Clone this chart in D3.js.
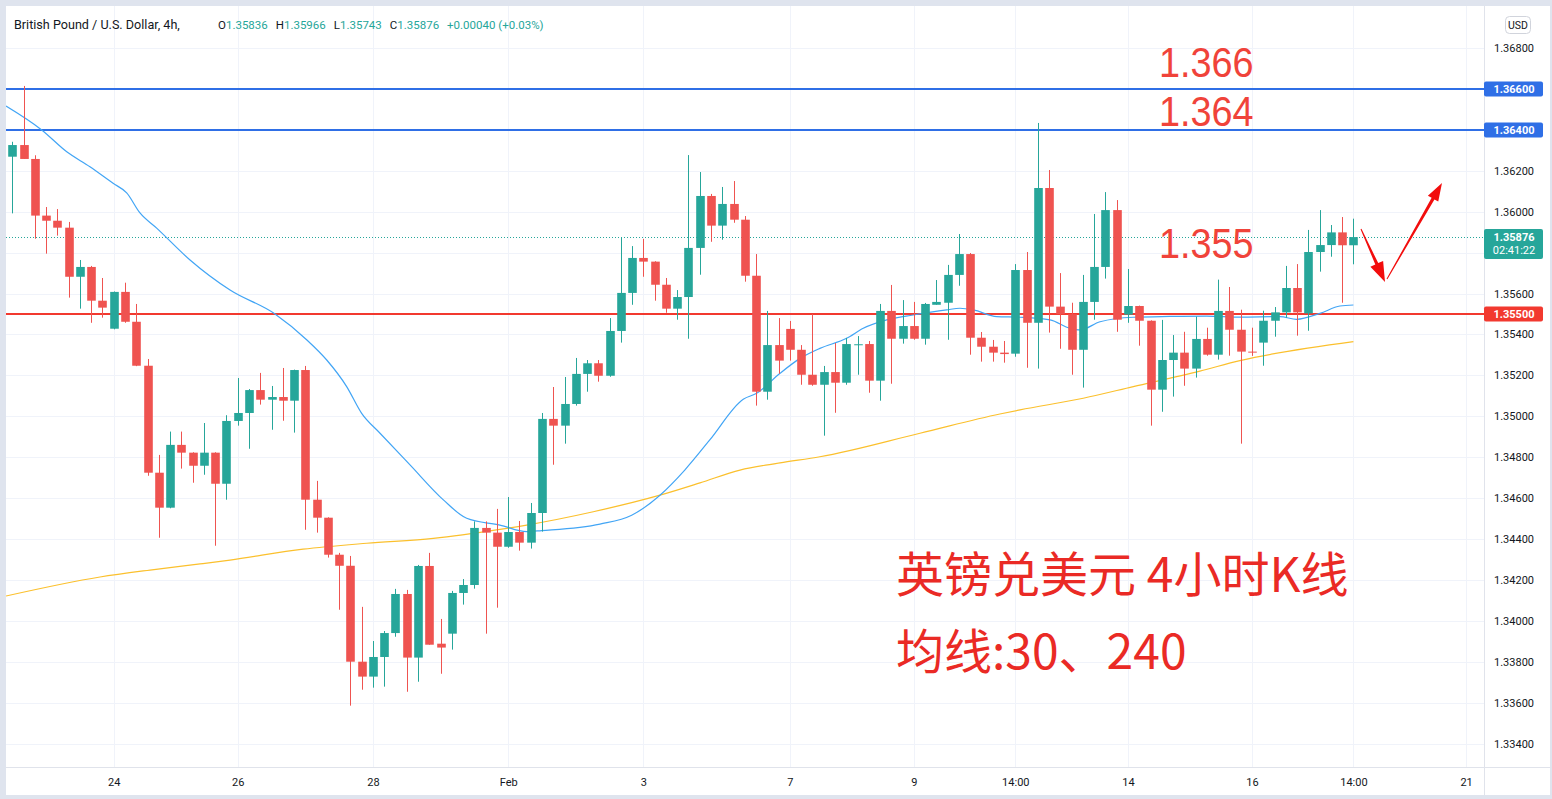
<!DOCTYPE html>
<html><head><meta charset="utf-8">
<script src="https://cdn.jsdelivr.net/npm/d3@7"></script>
<style>html,body{margin:0;padding:0;background:#fff;overflow:hidden}</style>
</head><body><svg id="c" width="1552" height="799"></svg>
<script>
// ---- data ----
const openP=[1.36269,1.36326,1.36258,1.35981,1.35956,1.35922,1.35682,1.35730,1.35565,1.35428,
1.35608,1.35462,1.35247,1.34724,1.34553,1.34860,1.34822,1.34758,1.34822,1.34670,
1.34977,1.35016,1.35128,1.35081,1.35094,1.35076,1.35226,1.34592,1.34504,1.34323,
1.34269,1.33800,1.33727,1.33823,1.33940,1.34131,1.33820,1.34268,1.33888,1.33937,
1.34136,1.34175,1.34454,1.34431,1.34362,1.34434,1.34382,1.34527,1.34987,1.34954,
1.35060,1.35207,1.35259,1.35198,1.35417,1.35603,1.35774,1.35756,1.35643,1.35526,
1.35583,1.35823,1.36077,1.35932,1.36038,1.35961,1.35687,1.35120,1.35348,1.35427,
1.35325,1.35203,1.35154,1.35216,1.35164,1.35350,1.35353,1.35174,1.35515,1.35379,
1.35441,1.35379,1.35545,1.35555,1.35691,1.35793,1.35384,1.35340,1.35311,1.35306,
1.35715,1.35457,1.36116,1.35536,1.35499,1.35325,1.35559,1.35730,1.36008,1.35497,
1.35539,1.35467,1.35130,1.35275,1.35311,1.35233,1.35378,1.35301,1.35515,1.35423,
1.35316,1.35360,1.35467,1.35508,1.35627,1.35503,1.35803,1.35837,1.35899,1.35836];
const highP=[1.36342,1.36615,1.36276,1.36023,1.36013,1.35950,1.35764,1.35735,1.35676,1.35610,
1.35653,1.35549,1.35280,1.34811,1.34925,1.34925,1.34824,1.34967,1.34824,1.35005,
1.35187,1.35133,1.35212,1.35148,1.35236,1.35228,1.35246,1.34684,1.34506,1.34332,
1.34317,1.34068,1.33901,1.33950,1.34156,1.34151,1.34273,1.34332,1.34009,1.34146,
1.34204,1.34486,1.34486,1.34547,1.34605,1.34488,1.34576,1.35016,1.35143,1.35192,
1.35285,1.35275,1.35275,1.35480,1.35876,1.35832,1.35867,1.35758,1.35676,1.35617,
1.36277,1.36194,1.36087,1.36121,1.36150,1.35979,1.35793,1.35515,1.35480,1.35466,
1.35348,1.35500,1.35246,1.35358,1.35383,1.35392,1.35368,1.35549,1.35642,1.35568,
1.35559,1.35554,1.35666,1.35740,1.35891,1.35798,1.35412,1.35373,1.35368,1.35744,
1.35803,1.36434,1.36204,1.35700,1.35555,1.35691,1.35989,1.36096,1.36057,1.35720,
1.35541,1.35469,1.35471,1.35397,1.35413,1.35487,1.35433,1.35668,1.35632,1.35521,
1.35433,1.35516,1.35534,1.35735,1.35744,1.35911,1.36008,1.35935,1.35974,1.35966];
const lowP=[1.35992,1.36258,1.35868,1.35795,1.35883,1.35580,1.35526,1.35457,1.35482,1.35425,
1.35457,1.35245,1.34709,1.34406,1.34550,1.34744,1.34675,1.34714,1.34367,1.34592,
1.34954,1.34841,1.35057,1.34934,1.34978,1.34920,1.34445,1.34431,1.34309,1.34054,
1.33585,1.33663,1.33673,1.33678,1.33922,1.33653,1.33702,1.33883,1.33741,1.33859,
1.34079,1.34157,1.33937,1.34064,1.34357,1.34343,1.34353,1.34436,1.34763,1.34866,
1.35052,1.35120,1.35169,1.35193,1.35360,1.35545,1.35682,1.35565,1.35506,1.35472,
1.35379,1.35692,1.35853,1.35863,1.35946,1.35658,1.35052,1.35081,1.35208,1.35272,
1.35154,1.35149,1.34905,1.35017,1.35154,1.35203,1.35115,1.35076,1.35159,1.35355,
1.35374,1.35350,1.35545,1.35374,1.35638,1.35301,1.35267,1.35267,1.35262,1.35291,
1.35237,1.35233,1.35409,1.35330,1.35203,1.35140,1.35472,1.35673,1.35413,1.35457,
1.35345,1.34954,1.35022,1.35096,1.35149,1.35189,1.35296,1.35277,1.35296,1.34866,
1.35295,1.35247,1.35389,1.35482,1.35394,1.35418,1.35707,1.35780,1.35555,1.35743];
const closeP=[1.36326,1.36258,1.35981,1.35956,1.35922,1.35682,1.35730,1.35565,1.35531,1.35608,
1.35462,1.35247,1.34724,1.34553,1.34860,1.34822,1.34758,1.34822,1.34670,1.34977,
1.35016,1.35128,1.35081,1.35094,1.35076,1.35226,1.34592,1.34504,1.34323,1.34269,
1.33800,1.33727,1.33823,1.33940,1.34131,1.33820,1.34268,1.33883,1.33869,1.34136,
1.34175,1.34454,1.34431,1.34362,1.34434,1.34382,1.34527,1.34987,1.34954,1.35060,
1.35207,1.35259,1.35198,1.35417,1.35603,1.35774,1.35756,1.35643,1.35526,1.35583,
1.35823,1.36077,1.35932,1.36038,1.35961,1.35687,1.35120,1.35348,1.35272,1.35325,
1.35203,1.35154,1.35216,1.35164,1.35353,1.35352,1.35174,1.35515,1.35379,1.35441,
1.35379,1.35549,1.35559,1.35691,1.35793,1.35384,1.35340,1.35311,1.35304,1.35715,
1.35457,1.36116,1.35536,1.35499,1.35325,1.35559,1.35730,1.36008,1.35472,1.35539,
1.35467,1.35130,1.35275,1.35311,1.35233,1.35378,1.35301,1.35515,1.35423,1.35316,
1.35314,1.35467,1.35508,1.35627,1.35508,1.35803,1.35837,1.35899,1.35836,1.35876];

// moving averages read at positions (candle index, price)
const ma30Idx=[-0.56,2.61,4.83,6.89,8.94,10.15,11.33,12.81,15.77,19.32,23.31,26.14,27.9,29.67,31.0,32.63,35.29,38.25,40.32,43.27,45.64,46.97,52.15,54.96,57.47,59.67,61.89,64.86,66.05,68.12,69.9,71.66,74.03,75.51,77.59,79.95,82.91,84.09,85.27,87.35,89.42,92.08,93.86,94.74,96.52,99.47,102.7,105.98,108.9,112.49,113.97,116.03,117.81,119];
const ma30Val=[1.36517,1.36400,1.36293,1.36220,1.36139,1.36092,1.35994,1.35920,1.35764,1.35617,1.35500,1.35373,1.35275,1.35145,1.35014,1.34917,1.34762,1.34591,1.34501,1.34468,1.34436,1.34441,1.34473,1.34516,1.34614,1.34737,1.34884,1.35083,1.35112,1.35210,1.35283,1.35332,1.35381,1.35430,1.35471,1.35495,1.35520,1.35528,1.35520,1.35487,1.35484,1.35471,1.35430,1.35422,1.35462,1.35484,1.35488,1.35490,1.35485,1.35487,1.35474,1.35503,1.35539,1.35544];
const ma240Idx=[-0.56,7.78,12.22,16.66,19.32,25.8,31.45,37.36,43.27,45.64,51.55,57.47,61.02,64.57,68.12,71.66,80.54,87.63,89.42,95.03,99.47,105.38,108.93,119];
const ma240Val=[1.34121,1.34214,1.34248,1.34278,1.34297,1.34350,1.34379,1.34403,1.34447,1.34468,1.34533,1.34614,1.34674,1.34737,1.34772,1.34802,1.34917,1.35011,1.35031,1.35088,1.35145,1.35221,1.35272,1.35365];

const tickIdx=[9,20,32,44,56,69,80,89,99,110,119,129];
const tickLabels=["24","26","28","Feb","3","7","9","14:00","14","16","14:00","21"];
const priceTicks=[1.334,1.336,1.338,1.340,1.342,1.344,1.346,1.348,1.350,1.352,1.354,1.356,1.358,1.360,1.362,1.364,1.366,1.368];
const resistLines=[1.366,1.364];
const supportLine=1.355;
const lastPrice=1.35876;
const noteTexts=["1.366","1.364","1.355"];

// ---- layout ----
const svg=d3.select("#c");
const W=1552,H=799;
const plotL=6,plotR=1484,plotT=6,plotB=767;
const x=d3.scaleLinear().domain([0,119]).range([12.3,1353.4]);
const y=d3.scaleLinear().domain([1.334,1.368]).range([743.5,48.1]);
const UP="#26a69a",DN="#ef5350";
const FONT="Roboto,'Liberation Sans',Arial,sans-serif";

svg.append("rect").attr("width",W).attr("height",H).attr("fill","#dfe4ee");
svg.append("rect").attr("x",plotL).attr("y",plotT).attr("width",W-plotL-2).attr("height",795-plotT).attr("fill","#fff");

svg.append("defs").append("clipPath").attr("id","clip")
  .append("rect").attr("x",plotL).attr("y",plotT).attr("width",plotR-plotL).attr("height",plotB-plotT);

const grid=svg.append("g").attr("clip-path","url(#clip)");
grid.selectAll("line.h").data(priceTicks).join("line")
  .attr("x1",plotL).attr("x2",plotR).attr("y1",d=>Math.round(y(d))+0.5).attr("y2",d=>Math.round(y(d))+0.5)
  .attr("stroke","#f0f3fa").attr("stroke-width",1);
grid.selectAll("line.v").data(tickIdx).join("line")
  .attr("y1",plotT).attr("y2",plotB).attr("x1",d=>Math.round(x(d))+0.5).attr("x2",d=>Math.round(x(d))+0.5)
  .attr("stroke","#f0f3fa").attr("stroke-width",1);

// axes separators
svg.append("line").attr("x1",plotR+0.5).attr("x2",plotR+0.5).attr("y1",plotT).attr("y2",795).attr("stroke","#e0e3eb");
svg.append("line").attr("x1",plotL).attr("x2",W).attr("y1",plotB+0.5).attr("y2",plotB+0.5).attr("stroke","#e0e3eb");

const plot=svg.append("g").attr("clip-path","url(#clip)");

// horizontal level lines
plot.selectAll("line.res").data(resistLines).join("line")
  .attr("x1",plotL).attr("x2",plotR).attr("y1",d=>y(d)).attr("y2",d=>y(d))
  .attr("stroke","#2f6fe6").attr("stroke-width",2);
plot.append("line").attr("x1",plotL).attr("x2",plotR).attr("y1",y(supportLine)).attr("y2",y(supportLine))
  .attr("stroke","#f2392f").attr("stroke-width",2);
plot.append("line").attr("x1",plotL).attr("x2",plotR).attr("y1",Math.round(y(lastPrice))+0.5).attr("y2",Math.round(y(lastPrice))+0.5)
  .attr("stroke",UP).attr("stroke-width",1).attr("stroke-dasharray","1,2");

// moving averages
const ma240Pts=ma240Idx.map((d,i)=>[d,ma240Val[i]]);
const ma30Pts=ma30Idx.map((d,i)=>[d,ma30Val[i]]);
const ln=d3.line().x(d=>x(d[0])).y(d=>y(d[1])).curve(d3.curveMonotoneX);
plot.append("path").attr("d",ln(ma240Pts)).attr("fill","none").attr("stroke","#fbc02d").attr("stroke-width",1.2);
plot.append("path").attr("d",ln(ma30Pts)).attr("fill","none").attr("stroke","#42a5f5").attr("stroke-width",1.2);

// candles
const idx=d3.range(openP.length);
const bw=8.6;
const cg=plot.append("g");
cg.selectAll("line").data(idx).join("line")
  .attr("x1",i=>Math.round(x(i))+0.5).attr("x2",i=>Math.round(x(i))+0.5)
  .attr("y1",i=>y(highP[i])).attr("y2",i=>y(lowP[i]))
  .attr("stroke",i=>closeP[i]>=openP[i]?UP:DN).attr("stroke-width",1);
cg.selectAll("rect").data(idx).join("rect")
  .attr("x",i=>Math.round(x(i))+0.5-bw/2).attr("width",bw)
  .attr("y",i=>y(Math.max(openP[i],closeP[i])))
  .attr("height",i=>Math.max(1,Math.abs(y(openP[i])-y(closeP[i]))))
  .attr("fill",i=>closeP[i]>=openP[i]?UP:DN);

// axes
const xAxis=d3.axisBottom(x).tickValues(tickIdx).tickFormat((d,i)=>tickLabels[i]).tickSize(0).tickPadding(11);
const gx=svg.append("g").attr("transform",`translate(0,${plotB})`).call(xAxis);
gx.select(".domain").remove();
gx.selectAll("text").attr("fill","#131722").style("font-family",FONT).style("font-size","11px");

const yAxis=d3.axisRight(y).tickValues(priceTicks).tickFormat(d3.format(".5f")).tickSize(0).tickPadding(10);
const gy=svg.append("g").attr("transform",`translate(${plotR},0)`).call(yAxis);
gy.select(".domain").remove();
gy.selectAll("text").attr("fill","#131722").style("font-family",FONT).style("font-size","11px");

// USD box
svg.append("rect").attr("x",1505.5).attr("y",16.5).attr("width",25).attr("height",17).attr("rx",4)
  .attr("fill","#fff").attr("stroke","#d1d4dc");
svg.append("text").attr("x",1518).attr("y",29).attr("text-anchor","middle").attr("fill","#131722")
  .style("font-family",FONT).style("font-size","10.5px").text("USD");

// price tags
function tag(p,col,txt,txt2){
  const yy=y(p);
  const h=txt2?30:15;
  const top=txt2?yy-8:yy-h/2;
  svg.append("rect").attr("x",plotR).attr("y",top).attr("width",59).attr("height",h).attr("rx",2).attr("fill",col);
  svg.append("text").attr("x",1514).attr("y",top+11.5).attr("text-anchor","middle").attr("fill","#fff")
    .style("font-family",FONT).style("font-size","11px").style("font-weight","bold").text(txt);
  if(txt2) svg.append("text").attr("x",1514).attr("y",top+25).attr("text-anchor","middle").attr("fill","#fff")
    .style("font-family",FONT).style("font-size","11px").text(txt2);
}
tag(resistLines[0],"#2f6fe6",d3.format(".5f")(resistLines[0]));
tag(resistLines[1],"#2f6fe6",d3.format(".5f")(resistLines[1]));
tag(lastPrice,UP,d3.format(".5f")(lastPrice),"02:41:22");
tag(supportLine,"#f2392f",d3.format(".5f")(supportLine));

// header
svg.append("text").attr("x",14).attr("y",29).style("font-family",FONT).style("font-size","12.6px").attr("fill","#131722")
  .text("British Pound / U.S. Dollar, 4h,");
const ohlc=[["O","1.35836"],["H","1.35966"],["L","1.35743"],["C","1.35876"]];
const hd2=svg.append("text").attr("x",218).attr("y",29).style("font-family",FONT).style("font-size","11.5px").attr("fill","#131722");
ohlc.forEach((d,i)=>{
  hd2.append("tspan").attr("dx",i?8:0).text(d[0]);
  hd2.append("tspan").attr("fill",UP).text(d[1]);
});
hd2.append("tspan").attr("dx",8).attr("fill",UP).text("+0.00040 (+0.03%)");

// annotations
const AF="'Noto Sans CJK SC','Noto Sans',sans-serif";
const noteBase=[77,126,258];
noteTexts.forEach((t,i)=>{
  svg.append("text").attr("transform",`translate(1159,${noteBase[i]}) scale(0.9,1)`).attr("fill","#f0433a")
    .style("font-family","'Liberation Sans',Arial,sans-serif").style("font-size","42px").text(t);
});
svg.append("text").attr("x",896).attr("y",592).attr("fill","#ea2a25")
  .style("font-family",AF).style("font-size","48px").text("英镑兑美元 4小时K线");
svg.append("text").attr("x",896).attr("y",669).attr("fill","#ea2a25")
  .style("font-family",AF).style("font-size","48px").text("均线:30、240");

// arrows
function arrow(x1,y1,x2,y2,hl,hw){
  const dx=x2-x1,dy=y2-y1,L=Math.hypot(dx,dy),ux=dx/L,uy=dy/L,nx=-uy,ny=ux;
  const bx=x2-ux*hl,by=y2-uy*hl;
  const p=[[x1+nx*0.5,y1+ny*0.5],[bx+nx*1.6,by+ny*1.6],[bx+nx*hw,by+ny*hw],[x2,y2],[bx-nx*hw,by-ny*hw],[bx-nx*1.6,by-ny*1.6],[x1-nx*0.5,y1-ny*0.5]];
  svg.append("path").attr("d","M"+p.map(q=>q.join(",")).join("L")+"Z").attr("fill","#f20d0d");
}
arrow(1361,229,1385,282,20,7);
arrow(1387,279,1442,183,18,6);
</script></body></html>
